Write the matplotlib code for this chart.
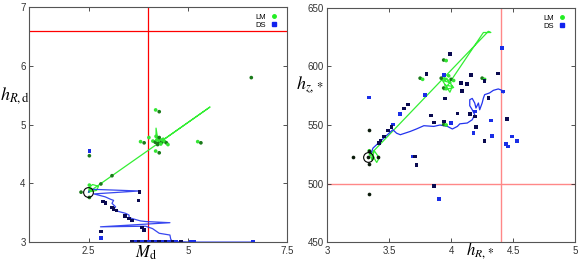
import matplotlib
matplotlib.use("Agg")
import matplotlib.pyplot as plt
from matplotlib.lines import Line2D

plt.rcParams['font.family'] = ['Liberation Sans', 'DejaVu Sans']
plt.rcParams['mathtext.fontset'] = 'stix'

# ---------------- left panel data: M_d vs h_R,d ----------------
lm_left_x = [6.60, 4.19, 4.28, 3.81, 3.90, 4.02, 5.25, 5.33, 4.19, 4.28,
             4.12, 4.18, 4.22, 4.26, 4.30, 4.34, 4.38, 4.42, 4.46, 4.50, 4.20, 4.28, 4.36, 4.24, 4.32,
             3.09, 2.81, 2.52, 2.52, 2.31, 2.52, 2.55]
lm_left_y = [5.80, 5.25, 5.22, 4.71, 4.69, 4.78, 4.71, 4.69, 4.55, 4.52,
             4.72, 4.70, 4.74, 4.68, 4.73, 4.70, 4.75, 4.71, 4.69, 4.66, 4.80, 4.78, 4.74, 4.66, 4.67,
             4.13, 3.99, 3.97, 4.47, 3.85, 3.76, 3.90]
lm_left_dark = [1, 0, 1, 0, 1, 0, 0, 1, 0, 1,
                0, 1, 0, 1, 0, 1, 0, 0, 1, 0, 0, 1, 0, 1, 0,
                1, 1, 0, 1, 1, 1, 0]

ds_left_x = [2.52, 3.78, 3.76, 2.86, 2.93, 3.09, 3.13, 3.20, 3.41, 3.52, 3.60,
             3.85, 3.90, 2.81, 2.81,
             3.60, 3.68, 3.77, 3.85, 3.94, 4.02, 4.11, 4.19, 4.28, 4.36, 4.45,
             4.53, 4.62, 4.70, 4.83, 5.08, 5.17, 6.65]
ds_left_y = [4.55, 3.85, 3.71, 3.69, 3.66, 3.59, 3.56, 3.54, 3.44, 3.40, 3.37,
             3.25, 3.21, 3.18, 3.07,
             3.01, 3.01, 3.01, 3.01, 3.01, 3.01, 3.01, 3.01, 3.01, 3.01, 3.01,
             3.01, 3.01, 3.01, 3.01, 3.01, 3.01, 3.01]
ds_left_dark = [0, 1, 1, 1, 1, 1, 1, 1, 1, 1, 1,
                1, 1, 1, 0,
                1, 0, 1, 0, 1, 0, 1, 0, 1, 0, 1,
                0, 1, 0, 1, 0, 0, 0]

lm_left_path_x = [2.50, 2.52, 2.60, 2.75, 2.70, 2.55, 2.50, 5.56, 4.30, 4.20, 4.20, 4.25,
                  4.40, 4.30, 4.15, 4.35]
lm_left_path_y = [3.85, 3.93, 3.98, 3.95, 3.88, 3.86, 3.85, 5.30, 4.70, 4.79, 4.94, 4.72,
                  4.70, 4.66, 4.72, 4.74]

ds_left_path_x = [2.50, 2.54, 3.77, 2.63, 2.75, 2.92, 3.05, 3.13, 3.09, 3.18, 3.13, 3.26,
                  3.43, 3.52, 3.52, 3.60, 3.81, 3.94, 4.55, 2.80, 3.94, 4.11, 4.28,
                  4.55, 4.57, 4.61, 5.10, 6.65]
ds_left_path_y = [3.85, 3.90, 3.87, 3.82, 3.80, 3.77, 3.73, 3.71, 3.66, 3.60, 3.56, 3.52,
                  3.49, 3.46, 3.42, 3.40, 3.36, 3.35, 3.33, 3.26, 3.27, 3.23, 3.15,
                  3.12, 3.05, 3.01, 3.00, 3.00]

# ---------------- right panel data: h_R,* vs h_z,* ----------------
lm_right_x = [3.75, 3.77, 3.94, 3.96, 3.92, 3.95, 3.94, 3.96, 3.94, 3.96,
              4.25, 4.27, 4.00, 4.02, 3.98, 3.35, 3.37, 3.34]
lm_right_y = [590, 589, 605.5, 605, 590, 589, 581.6, 581, 550.5, 550,
              590, 589, 589, 588, 592, 525, 522, 528]
lm_right_dark = [1, 0, 1, 0, 1, 0, 1, 0, 1, 0,
                 1, 0, 1, 0, 0, 0, 0, 0]

blk_right_x = [3.33, 3.21, 3.34, 3.34, 3.34, 3.41, 3.34]
blk_right_y = [523, 523, 546, 517, 491, 523, 528]

ds_right_x = [3.34, 3.99, 3.80, 3.94, 4.08, 4.09, 4.13, 4.16, 4.38, 4.41, 4.27, 4.30,
              4.42, 3.95, 3.79, 3.65, 3.62, 3.59, 3.53, 3.52, 3.49, 3.46, 3.43, 3.42,
              3.84, 3.86, 3.94, 4.00, 4.05, 4.15, 4.19, 4.19, 4.20, 4.18, 4.27, 4.32,
              4.33, 4.45, 4.44, 4.46, 4.49, 4.53, 3.69, 3.71, 3.72, 3.86, 3.90]
ds_right_y = [573.6, 610.7, 593.3, 592.7, 585.6, 579, 585, 592.7, 594, 616, 587.3, 573,
              578.5, 572.5, 575.6, 567.6, 564, 559.4, 550.5, 548.3, 545.4, 540.3, 536.8, 534.6,
              558.2, 552.2, 553, 551.6, 559.9, 559.4, 561.5, 557.4, 548.5, 543.4, 536.3, 553.9,
              540.8, 555.4, 533.5, 531.7, 540.3, 536.6, 523, 523, 516, 498, 487]
ds_right_dark = [0, 1, 1, 0, 1, 1, 1, 1, 1, 0, 1, 1,
                 0, 1, 0, 1, 1, 0, 0, 1, 1, 1, 1, 1,
                 1, 1, 1, 0, 1, 1, 0, 1, 1, 0, 1, 0,
                 0, 1, 0, 0, 0, 0, 0, 1, 1, 1, 0]

lm_right_path_x = [3.36, 3.40, 3.42, 3.38, 3.36, 3.35, 4.30, 4.32, 4.26, 3.98, 3.94, 4.02,
                   3.96, 4.00, 3.93, 3.99, 4.01, 3.95]
lm_right_path_y = [525, 518, 522, 528, 520, 525, 630, 629, 629, 585, 580, 582,
                   590, 586, 588, 578, 583, 584]

ds_right_path_x = [3.35, 3.37, 3.53, 3.56, 3.59, 3.67, 3.72, 3.78, 3.86, 3.91, 3.97, 4.01,
                   4.05, 4.07, 4.13, 4.17, 4.19, 4.17, 4.15, 4.15, 4.17, 4.19, 4.20, 4.22,
                   4.23, 4.25, 4.26, 4.27, 4.31, 4.34, 4.38, 4.41, 4.42]
ds_right_path_y = [524.6, 530.3, 546, 543, 541.7, 544.5, 546.6, 549.4, 548.8, 550, 548.8, 546.6,
                   548.8, 551, 551.7, 554.5, 558.8, 563, 566.5, 571.6, 572.7, 568.8, 564.5, 568.8,
                   563, 568.8, 573, 575.9, 577.4, 579.6, 580.8, 579.6, 577.4]

LM_LIGHT, LM_DARK = '#33e633', '#1a7a1a'
DS_LIGHT, DS_DARK = '#1a2ee6', '#0a0a50'


def shade(flags, light, dark):
    return [dark if f else light for f in flags]


fig = plt.figure(figsize=(5.81, 2.64), dpi=100)
ax1 = fig.add_axes([0.050, 0.083, 0.444, 0.890])
ax2 = fig.add_axes([0.563, 0.083, 0.427, 0.887])

for ax in (ax1, ax2):
    ax.tick_params(direction='in', length=3, width=0.6, labelsize=7, top=True, right=True,
                   colors='#333333', pad=2.5)
    for s in ax.spines.values():
        s.set_linewidth(0.8)
        s.set_color('#555555')

# left
ax1.axvline(4.0, color='red', lw=0.9, zorder=1)
ax1.axhline(6.6, color='red', lw=0.9, zorder=1)
ax1.plot(lm_left_path_x, lm_left_path_y, color='#33ee33', lw=0.9, zorder=2)
ax1.plot(ds_left_path_x, ds_left_path_y, color='#2233ee', lw=0.9, zorder=2, alpha=0.9)
ax1.scatter(lm_left_x, lm_left_y, s=7, c=shade(lm_left_dark, LM_LIGHT, LM_DARK), marker='o',
            linewidths=0, zorder=3)
ax1.scatter(ds_left_x, ds_left_y, s=7, c=shade(ds_left_dark, DS_LIGHT, DS_DARK), marker='s',
            linewidths=0, zorder=3)
ax1.plot([2.48], [3.85], marker='o', ms=7, mfc='none', mec='black', mew=0.8, zorder=4)
ax1.set_xlim(1, 7.5)
ax1.set_ylim(3, 7)
ax1.set_xticks([2.5, 5, 7.5])
ax1.set_xticklabels(['2.5', '5', '7.5'])
ax1.set_yticks([3, 4, 5, 6, 7])
ax1.set_xlabel(r'$M_\mathrm{d}$', fontsize=12)
ax1.xaxis.set_label_coords(0.455, -0.005)
ax1.set_ylabel(r'$h_{R,\mathrm{d}}$', fontsize=13, rotation=0, labelpad=0)
ax1.yaxis.set_label_coords(-0.055, 0.58)

# right
ax2.axvline(4.4, color='#ff8888', lw=1.0, zorder=1)
ax2.axhline(500, color='#ff8888', lw=1.0, zorder=1)
ax2.plot(lm_right_path_x, lm_right_path_y, color='#33ee33', lw=0.9, zorder=2)
ax2.plot(ds_right_path_x, ds_right_path_y, color='#2233ee', lw=0.9, zorder=2)
ax2.scatter(lm_right_x, lm_right_y, s=7, c=shade(lm_right_dark, LM_LIGHT, LM_DARK), marker='o',
            linewidths=0, zorder=3)
ax2.scatter(blk_right_x, blk_right_y, s=7, c='#0a1a0a', marker='o', linewidths=0, zorder=3)
ax2.scatter(ds_right_x, ds_right_y, s=7, c=shade(ds_right_dark, DS_LIGHT, DS_DARK), marker='s',
            linewidths=0, zorder=3)
ax2.plot([3.33], [523], marker='o', ms=7, mfc='none', mec='black', mew=0.8, zorder=4)
ax2.set_xlim(3, 5)
ax2.set_ylim(450, 650)
ax2.set_xticks([3, 3.5, 4, 4.5, 5])
ax2.set_xticklabels(['3', '3.5', '4', '4.5', '5'])
ax2.set_yticks([450, 500, 550, 600, 650])
ax2.set_xlabel(r'$h_{R,*}$', fontsize=12)
ax2.xaxis.set_label_coords(0.617, 0.008)
ax2.set_ylabel(r'$h_{z,*}$', fontsize=13, rotation=0, labelpad=0)
ax2.yaxis.set_label_coords(-0.07, 0.63)

handles = [Line2D([], [], ls='none', marker='o', ms=2.5, color='#22ee22'),
           Line2D([], [], ls='none', marker='s', ms=2.5, color='#1122ee')]
for ax in (ax1, ax2):
    ax.legend(handles, ['LM', 'DS'], loc='upper right', frameon=False, markerfirst=False,
              fontsize=5.5, handlelength=1.0, handletextpad=0.6, labelspacing=0.1,
              borderaxespad=0.3, bbox_to_anchor=(0.985, 0.995))

fig.savefig('out.png', dpi=100)
